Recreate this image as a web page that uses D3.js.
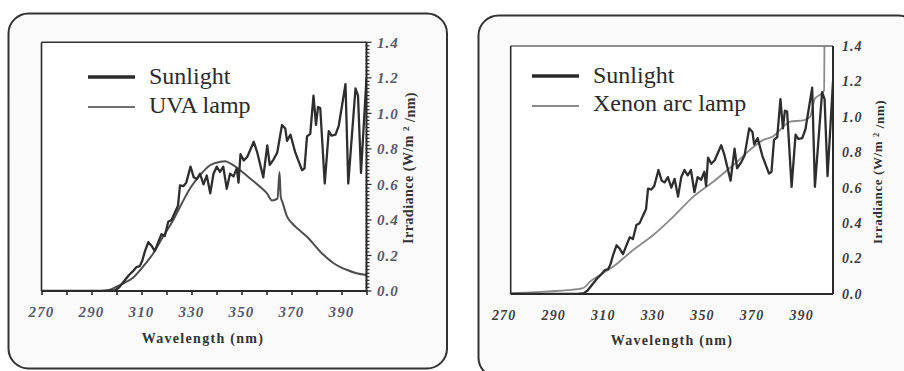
<!DOCTYPE html>
<html>
<head>
<meta charset="utf-8">
<script src="https://cdn.jsdelivr.net/npm/d3@7"></script>
<style>
  html, body { margin: 0; padding: 0; background: #ffffff; }
  svg { display: block; }
</style>
</head>
<body>
<svg id="chart" width="904" height="371" font-family="'Liberation Serif', Tinos, 'Times New Roman', 'DejaVu Serif', serif"></svg>
<script>
// Wavelength axis ticks (nm) and irradiance ticks (W/m² /nm)
const wavelengthTicks = [270, 290, 310, 330, 350, 370, 390];
const irradianceTicks = [0, 0.2, 0.4, 0.6, 0.8, 1.0, 1.2, 1.4];

// Solar spectrum
const sunlightWl = [270, 290, 297, 299.5, 301, 303, 305, 306.5, 308, 309.3, 310.3, 311.3, 312.7, 314, 315.3,
  316.7, 318, 319.3, 320.7, 322, 323.3, 324.6, 325.4, 326.7, 327.9, 329.6, 330.9, 332.1, 333.4, 334.8,
  336.1, 337.5, 338.8, 340.1, 341.4, 342.7, 344.1, 345.4, 346.8, 348.1, 348.8, 349.6, 350.9, 352.3, 354.9,
  356.2, 358.7, 360.3, 361.3, 362.8, 364.3, 366.2, 367.5, 368.2, 369.6, 371.5, 374.2, 375.2, 376.2, 377.5,
  378.8, 379.8, 380.6, 381.5, 383.3, 384.9, 386.0, 387.6, 388.9, 391.6, 392.7, 395.6, 396.6, 397.8, 400];
const sunlightIrr = [0, 0, 0, 0.005, 0.02, 0.055, 0.09, 0.11, 0.135, 0.14, 0.17, 0.22, 0.275, 0.255, 0.225,
  0.275, 0.32, 0.31, 0.39, 0.40, 0.44, 0.48, 0.595, 0.59, 0.61, 0.70, 0.64, 0.63, 0.66, 0.60,
  0.65, 0.55, 0.66, 0.70, 0.67, 0.70, 0.575, 0.66, 0.645, 0.69, 0.61, 0.77, 0.735, 0.755, 0.84,
  0.785, 0.64, 0.82, 0.71, 0.74, 0.78, 0.935, 0.915, 0.845, 0.88, 0.78, 0.68, 0.69, 0.87, 0.885,
  1.10, 0.935, 1.035, 1.03, 0.605, 0.90, 0.875, 0.88, 0.93, 1.165, 0.605, 1.14, 1.10, 0.665, 1.2];

// UVA lamp emission
const uvaWl = [294, 297, 300, 303, 306.6, 310.6, 314.6, 318.6, 322.7, 326, 329.4, 333.4, 337.4, 341.4, 343.5,
  345.5, 349.5, 353.5, 357.5, 360.2, 362.2, 364.4, 365.2, 365.7, 366.4, 368.2, 370.3, 373, 376.2, 381.6,
  387, 392.3, 396, 400];
const uvaIrr = [0, 0.006, 0.024, 0.045, 0.075, 0.137, 0.21, 0.305, 0.40, 0.49, 0.577, 0.652, 0.708, 0.727, 0.73,
  0.718, 0.68, 0.633, 0.586, 0.549, 0.51, 0.52, 0.67, 0.53, 0.50, 0.42, 0.38, 0.345, 0.305, 0.22,
  0.155, 0.118, 0.10, 0.09];

// Xenon arc lamp emission
const xenonWl = [270, 276, 282, 288, 293, 297, 299.5, 302, 306, 311.4, 319.5, 327.5, 335.6, 343.7, 351.7,
  359.8, 367.9, 371.9, 375.9, 380, 382.7, 388.1, 390.7, 392.8, 394.8, 396.4, 396.8, 400];
const xenonIrr = [0.005, 0.008, 0.012, 0.017, 0.022, 0.027, 0.035, 0.07, 0.107, 0.155, 0.25, 0.333, 0.437, 0.55, 0.634,
  0.728, 0.83, 0.87, 0.89, 0.945, 0.973, 0.98, 1.0, 1.105, 1.125, 1.15, 2.0, 2.0];

const svg = d3.select("#chart");
const zip = (xs, ys) => xs.map((x, i) => [x, ys[i]]);

const panels = [
  {
    id: "uva",
    box: { x: 8.5, y: 13.5, w: 438.5, h: 355 },
    plot: { l: 41.5, r: 366.5, t: 42.3, b: 291 },
    labelShift: 0,
    tickColor: "#55596b",
    xLabelY: 317, xLabelSize: 15, yLabelX: 377, yLabelSize: 15,
    xTitle: { x: 203, y: 343, size: 14 },
    yTitle: { x: 413, y: 168, size: 14, spacing: 0.5 },
    axisTicks: true,
    legendLine: { x1: 88, x2: 135, y1: 77, y2: 107 },
    legendText: { x: 149, y1: 84, y2: 113 },
    lamp: { name: "UVA lamp", wl: uvaWl, irr: uvaIrr, color: "#4e4e4e", width: 2, legendColor: "#707070" },
    topFrame: "#333"
  },
  {
    id: "xenon",
    box: { x: 478.5, y: 15.5, w: 440, h: 362 },
    plot: { l: 510.7, r: 833, t: 46, b: 294 },
    labelShift: -6.5,
    tickColor: "#3c3c3c",
    xLabelY: 320, xLabelSize: 14, yLabelX: 842, yLabelSize: 14,
    xTitle: { x: 672, y: 345, size: 14 },
    yTitle: { x: 882, y: 172, size: 13, spacing: 0.6 },
    axisTicks: false,
    legendLine: { x1: 532, x2: 579, y1: 76, y2: 106 },
    legendText: { x: 593, y1: 83, y2: 111 },
    lamp: { name: "Xenon arc lamp", wl: xenonWl, irr: xenonIrr, color: "#8a8a8a", width: 1.8, legendColor: "#8a8a8a" },
    topFrame: "#6a6a6a"
  }
];

panels.forEach(p => {
  const g = svg.append("g");
  const { plot } = p;

  // rounded panel card
  g.append("rect")
    .attr("x", p.box.x).attr("y", p.box.y)
    .attr("width", p.box.w).attr("height", p.box.h)
    .attr("rx", 20).attr("ry", 20)
    .attr("fill", "#fafafa").attr("stroke", "#333").attr("stroke-width", 2);

  g.append("rect")
    .attr("x", plot.l).attr("y", plot.t)
    .attr("width", plot.r - plot.l).attr("height", plot.b - plot.t)
    .attr("fill", "#ffffff");

  const x = d3.scaleLinear().domain([270, 400]).range([plot.l, plot.r]);
  const y = d3.scaleLinear().domain([0, 1.4]).range([plot.b, plot.t]);

  const clipId = "clip-" + p.id;
  svg.append("defs").append("clipPath").attr("id", clipId)
    .append("rect")
    .attr("x", plot.l).attr("y", plot.t)
    .attr("width", plot.r - plot.l).attr("height", plot.b - plot.t);

  const lineLinear = d3.line().x(d => x(d[0])).y(d => y(d[1]));
  const lineSmooth = d3.line().x(d => x(d[0])).y(d => y(d[1])).curve(d3.curveMonotoneX);

  const curves = g.append("g").attr("clip-path", `url(#${clipId})`);
  curves.append("path")
    .datum(zip(p.lamp.wl, p.lamp.irr))
    .attr("d", lineSmooth)
    .attr("fill", "none")
    .attr("stroke", p.lamp.color)
    .attr("stroke-width", p.lamp.width)
    .attr("stroke-linejoin", "round");
  curves.append("path")
    .datum(zip(sunlightWl, sunlightIrr))
    .attr("d", lineLinear)
    .attr("fill", "none")
    .attr("stroke", "#2e2e2e")
    .attr("stroke-width", 2.3)
    .attr("stroke-linejoin", "round");

  // plot frame
  const frame = g.append("g").attr("fill", "none").attr("stroke-width", 1.6);
  frame.append("line").attr("x1", plot.l).attr("x2", plot.r).attr("y1", plot.t).attr("y2", plot.t).attr("stroke", p.topFrame);
  frame.append("line").attr("x1", plot.l).attr("x2", plot.r).attr("y1", plot.b).attr("y2", plot.b).attr("stroke", "#2a2a2a").attr("stroke-width", 2);
  frame.append("line").attr("x1", plot.l).attr("x2", plot.l).attr("y1", plot.t).attr("y2", plot.b).attr("stroke", "#2a2a2a");
  frame.append("line").attr("x1", plot.r).attr("x2", plot.r).attr("y1", plot.t).attr("y2", plot.b).attr("stroke", "#2a2a2a").attr("stroke-width", 2);

  if (p.axisTicks) {
    // wavelength ticks every 10 nm pointing down
    const xt = d3.range(270, 401, 10);
    g.append("g").attr("transform", `translate(0,${plot.b})`)
      .call(d3.axisBottom(x).tickValues(xt).tickSize(4).tickFormat(""))
      .call(a => a.select(".domain").remove())
      .call(a => a.selectAll("line").attr("stroke", "#2a2a2a").attr("stroke-width", 1.6));
    // irradiance minor / major ticks on the right axis
    const minor = d3.range(0, 71).map(i => i * 0.02);
    g.append("g").selectAll("line").data(minor).join("line")
      .attr("x1", plot.r - 1).attr("x2", d => plot.r + (Math.abs(d * 5 - Math.round(d * 5)) < 1e-6 ? 5 : 3))
      .attr("y1", d => y(d)).attr("y2", d => y(d))
      .attr("stroke", "#2a2a2a").attr("stroke-width", 1.2);
  }

  // wavelength tick labels
  g.append("g").selectAll("text").data(wavelengthTicks).join("text")
    .attr("x", d => x(d) + p.labelShift)
    .attr("y", p.xLabelY)
    .attr("text-anchor", "middle")
    .attr("font-size", p.xLabelSize)
    .attr("font-weight", "bold").attr("font-style", "italic")
    .attr("letter-spacing", 1.2)
    .attr("fill", p.tickColor)
    .text(d => d);

  // irradiance tick labels
  g.append("g").selectAll("text").data(irradianceTicks).join("text")
    .attr("x", p.yLabelX)
    .attr("y", d => y(d))
    .attr("dy", "0.35em")
    .attr("font-size", p.yLabelSize)
    .attr("font-weight", "bold").attr("font-style", "italic")
    .attr("letter-spacing", 1)
    .attr("fill", p.tickColor)
    .text(d => d.toFixed(1));

  // axis titles
  g.append("text")
    .attr("x", p.xTitle.x).attr("y", p.xTitle.y)
    .attr("text-anchor", "middle")
    .attr("font-size", p.xTitle.size).attr("font-weight", "bold")
    .attr("letter-spacing", 1.3)
    .attr("fill", "#333")
    .text("Wavelength (nm)");

  const yt = g.append("text")
    .attr("transform", `translate(${p.yTitle.x},${p.yTitle.y}) rotate(-90)`)
    .attr("text-anchor", "middle")
    .attr("font-size", p.yTitle.size).attr("font-weight", "bold")
    .attr("letter-spacing", p.yTitle.spacing)
    .attr("fill", "#333");
  yt.append("tspan").text("Irradiance (W/m ");
  yt.append("tspan").attr("dy", "-0.4em").attr("font-size", p.yTitle.size * 0.65).text("2");
  yt.append("tspan").attr("dy", "0.4em").text(" /nm)");

  // legend
  const lg = g.append("g");
  lg.append("line")
    .attr("x1", p.legendLine.x1).attr("x2", p.legendLine.x2)
    .attr("y1", p.legendLine.y1).attr("y2", p.legendLine.y1)
    .attr("stroke", "#2a2a2a").attr("stroke-width", 3.5);
  lg.append("line")
    .attr("x1", p.legendLine.x1).attr("x2", p.legendLine.x2)
    .attr("y1", p.legendLine.y2).attr("y2", p.legendLine.y2)
    .attr("stroke", p.lamp.legendColor).attr("stroke-width", 2);
  lg.append("text")
    .attr("x", p.legendText.x).attr("y", p.legendText.y1)
    .attr("font-size", 24).attr("fill", "#2a2a2a")
    .text("Sunlight");
  lg.append("text")
    .attr("x", p.legendText.x).attr("y", p.legendText.y2)
    .attr("font-size", 24).attr("fill", "#2a2a2a")
    .text(p.lamp.name);
});
</script>
</body>
</html>
